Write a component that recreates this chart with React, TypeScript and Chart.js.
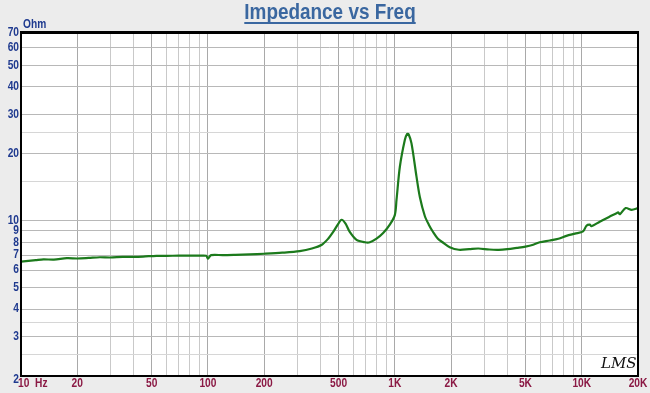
import React, { useEffect, useRef } from "react";
import { Chart, registerables } from "chart.js";

Chart.register(...registerables);

const freqHz = [10, 12, 13.2, 15, 17.6, 20, 23, 26.4, 30, 35, 40, 45, 53, 60, 70, 80, 90, 98, 100, 104, 120, 140, 167, 200, 250, 310, 360, 407, 440, 468, 495, 519, 545, 574, 624, 692, 735, 798, 866, 940, 1000, 1021, 1064, 1131, 1164, 1185, 1228, 1306, 1361, 1447, 1520, 1602, 1700, 1800, 1967, 2200, 2500, 2800, 3200, 3600, 4000, 4500, 5000, 5500, 5960, 6745, 7500, 8280, 9200, 10160, 10600, 11040, 11270, 12480, 14000, 15350, 15660, 16000, 17180, 18500, 20000];
const impedanceOhm = [6.55, 6.65, 6.7, 6.68, 6.78, 6.76, 6.8, 6.85, 6.83, 6.88, 6.88, 6.9, 6.95, 6.95, 6.96, 6.96, 6.96, 6.95, 6.75, 7.0, 7.0, 7.02, 7.05, 7.1, 7.18, 7.3, 7.5, 7.8, 8.3, 8.9, 9.6, 10.1, 9.7, 8.9, 8.2, 8.0, 8.0, 8.3, 8.8, 9.6, 10.6, 12.4, 17.5, 23.1, 24.6, 24.5, 22.3, 15.8, 12.8, 10.5, 9.6, 8.9, 8.3, 8.0, 7.6, 7.4, 7.45, 7.5, 7.42, 7.4, 7.45, 7.55, 7.65, 7.8, 8.0, 8.15, 8.3, 8.55, 8.75, 8.95, 9.5, 9.6, 9.45, 9.9, 10.4, 10.8, 10.9, 10.7, 11.4, 11.2, 11.4];

const xDecades = [10, 100, 1000, 10000];
const xMultipliers = [1, 2, 3, 4, 5, 6, 7, 8, 9];
const xLabelValues = [10, 20, 50, 100, 200, 500, 1000, 2000, 5000, 10000, 20000];
const xLabelTexts = ["10  Hz", "20", "50", "100", "200", "500", "1K", "2K", "5K", "10K", "20K"];
const yGridValues = [2, 2.5, 3, 3.5, 4, 5, 6, 7, 8, 9, 10, 15, 20, 25, 30, 40, 50, 60, 70];
const yLabelValues = [2, 3, 4, 5, 6, 7, 8, 9, 10, 20, 30, 40, 50, 60, 70];

const xGridValues: number[] = [];
xDecades.forEach((d) => xMultipliers.forEach((m) => { if (d * m <= 20000) xGridValues.push(d * m); }));

const LABEL_FONT = 'bold 12px "Liberation Sans", Arial, sans-serif';

function narrowText(ctx: CanvasRenderingContext2D, text: string, x: number, y: number, align: "left" | "center" | "right", sx: number) {
  ctx.save();
  ctx.translate(x, y);
  ctx.scale(sx, 1);
  ctx.textAlign = align;
  ctx.fillText(text, 0, 0);
  ctx.restore();
}

export default function App() {
  const ref = useRef<HTMLCanvasElement | null>(null);
  useEffect(() => {
    document.body.style.margin = "0";
    const canvas = ref.current!;
    const decor = {
      id: "decor",
      beforeDraw(chart: any) {
        const { ctx, chartArea: a } = chart;
        ctx.save();
        ctx.fillStyle = "#ECECEC";
        ctx.fillRect(0, 0, chart.width, chart.height);
        ctx.fillStyle = "#FFFFFF";
        ctx.fillRect(a.left, a.top, a.right - a.left, a.bottom - a.top);
        ctx.restore();
      },
      afterDraw(chart: any) {
        const { ctx, chartArea: a } = chart;
        const xs = chart.scales.x;
        const ys = chart.scales.y;
        ctx.save();
        ctx.strokeStyle = "#000";
        ctx.lineWidth = 2;
        ctx.strokeRect(a.left, a.top, a.right - a.left, a.bottom - a.top);
        ctx.fillStyle = "#000";
        ctx.fillRect(a.left - 1, a.top - 2, a.right - a.left + 2, 2);
        ctx.font = LABEL_FONT;
        ctx.fillStyle = "#1F3A8F";
        ctx.textBaseline = "middle";
        yLabelValues.forEach((v) => {
          let y = ys.getPixelForValue(v);
          if (v === 2) y += 4;
          narrowText(ctx, String(v), a.left - 2, y, "right", 0.85);
        });
        narrowText(ctx, "Ohm", a.left + 2, a.top - 8, "left", 0.85);
        ctx.fillStyle = "#8B1A45";
        xLabelValues.forEach((v, i) => {
          const x = xs.getPixelForValue(v);
          if (i === 0) narrowText(ctx, xLabelTexts[i], x - 3, a.bottom + 8, "left", 0.85);
          else narrowText(ctx, xLabelTexts[i], x, a.bottom + 8, "center", 0.85);
        });
        ctx.font = 'bold 22px "Liberation Sans", Arial, sans-serif';
        ctx.fillStyle = "#3A67A0";
        ctx.textBaseline = "alphabetic";
        const title = "Impedance vs Freq";
        const tx = 330;
        narrowText(ctx, title, tx, 19, "center", 0.86);
        const w = ctx.measureText(title).width * 0.86;
        ctx.fillRect(tx - w / 2, 22, w, 2);
        ctx.font = 'italic 15px "DejaVu Serif", serif';
        ctx.fillStyle = "#111";
        ctx.textAlign = "left";
        ctx.fillText("LMS", 601, 368);
        ctx.restore();
      },
    };
    const chart = new Chart(canvas, {
      type: "line",
      data: {
        datasets: [
          {
            data: freqHz.map((f, i) => ({ x: f, y: impedanceOhm[i] })),
            borderColor: "#1C7A1C",
            borderWidth: 2.2,
            pointRadius: 0,
            tension: 0.3,
            fill: false,
          },
        ],
      },
      options: {
        animation: false,
        responsive: false,
        devicePixelRatio: 1,
        layout: { padding: { left: 21, top: 33, right: 12, bottom: 17 } },
        plugins: { legend: { display: false }, tooltip: { enabled: false }, title: { display: false } },
        scales: {
          x: {
            type: "logarithmic",
            min: 10,
            max: 20000,
            afterBuildTicks: (s: any) => { s.ticks = xGridValues.map((v) => ({ value: v })); },
            ticks: { display: false },
            border: { display: false },
            grid: {
              drawTicks: false,
              lineWidth: 1,
              color: (c: any) => {
                const v = c.tick ? c.tick.value : 0;
                const m = v / Math.pow(10, Math.floor(Math.log10(v) + 1e-9));
                return Math.abs(m - 1) < 1e-6 || Math.abs(m - 2) < 1e-6 || Math.abs(m - 5) < 1e-6 ? "#A9A9A9" : "#C9C9C9";
              },
            },
          },
          y: {
            type: "logarithmic",
            min: 2,
            max: 70,
            afterBuildTicks: (s: any) => { s.ticks = yGridValues.map((v) => ({ value: v })); },
            ticks: { display: false },
            border: { display: false },
            grid: {
              drawTicks: false,
              lineWidth: 1,
              color: (c: any) => {
                const v = c.tick ? c.tick.value : 0;
                return yLabelValues.includes(v) ? "#B8B8B8" : "#D6D6D6";
              },
            },
          },
        },
      },
      plugins: [decor],
    } as any);
    return () => chart.destroy();
  }, []);
  return <canvas ref={ref} width={650} height={393} style={{ display: "block", width: 650, height: 393 }} />;
}
